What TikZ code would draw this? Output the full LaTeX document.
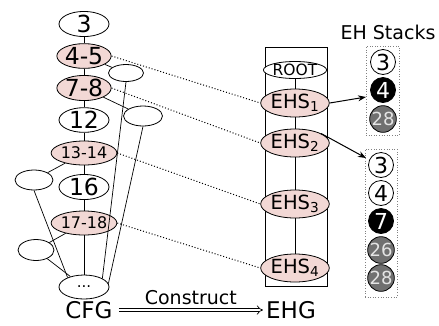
\documentclass[tikz,border=0pt]{standalone}
\usepackage{fontspec}
\setmainfont{DejaVu Sans}
\usetikzlibrary{shapes.geometric,arrows.meta}
\definecolor{pinkf}{HTML}{F2D8D5}
\definecolor{grayf}{HTML}{707070}
\definecolor{graytxt}{HTML}{E4E4E4}
\begin{document}
\begin{tikzpicture}[x=1pt,y=-1pt,
  every node/.style={inner sep=0pt},
  cfgnode/.style={ellipse,draw,line width=0.8pt,minimum width=50pt,minimum height=24pt,fill=white},
  hot/.style={cfgnode,fill=pinkf},
  sidenode/.style={ellipse,draw,line width=0.8pt,fill=white},
  bigtxt/.style={font=\fontsize{23.5}{23.5}\selectfont},
  smalltxt/.style={font=\fontsize{16}{16}\selectfont},
  ehs/.style={ellipse,draw,line width=0.8pt,fill=pinkf,minimum width=56pt,minimum height=28pt,font=\fontsize{19.5}{19.5}\selectfont},
  stk/.style={circle,draw,line width=0.8pt,minimum size=25pt,font=\fontsize{22}{22}\selectfont},
  stkw/.style={stk,fill=white},
  stkb/.style={stk,fill=black,text=white},
  stkg/.style={stk,fill=grayf,text=graytxt,font=\fontsize{18}{18}\selectfont},
  edge/.style={line width=0.7pt},
  link/.style={line width=1pt,dotted},
  stackbox/.style={draw=gray,dotted,line width=0.6pt,fill=none}
]
\useasboundingbox (0,0) rectangle (439,325);

% CFG side nodes
\node[sidenode,minimum width=35pt,minimum height=17pt] (A) at (126,73) {};
\node[sidenode,minimum width=39pt,minimum height=20pt] (B) at (143,116) {};
\node[sidenode,minimum width=38pt,minimum height=20pt] (C) at (34,180) {};
\node[sidenode,minimum width=36pt,minimum height=21pt] (D) at (36,250) {};

% CFG chain
\node[cfgnode,bigtxt] (n3) at (84,24) {3};
\node[hot,bigtxt] (n45) at (84,56) {4-5};
\node[hot,bigtxt] (n78) at (84,88) {7-8};
\node[cfgnode,bigtxt] (n12) at (84,120) {12};
\node[hot,smalltxt] (n1314) at (84,153) {13-14};
\node[cfgnode,bigtxt] (n16) at (84,187) {16};
\node[hot,smalltxt] (n1718) at (84,223) {17-18};
\node[cfgnode,font=\fontsize{15}{15}\selectfont] (dots) at (84,287) {...};

\draw[edge] (n3) -- (n45);
\draw[edge] (n45) -- (n78);
\draw[edge] (n78) -- (n12);
\draw[edge] (n12) -- (n1314);
\draw[edge] (n1314) -- (n16);
\draw[edge] (n16) -- (n1718);
\draw[edge] (n1718) -- (dots);
\draw[edge] (n45) -- (A);
\draw[edge] (n78) -- (B);
\draw[edge] (A.south) -- (dots.25);
\draw[edge] (B.south) -- (dots.8);
\draw[edge] (n1314) -- (C);
\draw[edge] (C.south) -- (dots.150);
\draw[edge] (n1718) -- (D);
\draw[edge] (D) -- (dots);

% EHG
\node[draw,line width=1pt,minimum width=62pt,minimum height=239pt] (box) at (296,166.5) {};
\node[ellipse,draw,line width=0.8pt,fill=white,minimum width=48pt,minimum height=17pt,font=\fontsize{15.5}{15.5}\selectfont] (root) at (295,70) {ROOT};
\node[ehs] (e1) at (295,103) {EHS\textsubscript{1}};
\node[ehs] (e2) at (295,143) {EHS\textsubscript{2}};
\node[ehs] (e3) at (295,204) {EHS\textsubscript{3}};
\node[ehs] (e4) at (295,268) {EHS\textsubscript{4}};
\draw[edge] (root) -- (e1);
\draw[edge] (e1) -- (e2);
\draw[edge] (e2) -- (e3);
\draw[edge] (e3) -- (e4);

% dotted mappings
\draw[link] (n45.east) -- (e1.west);
\draw[link] (n78.east) -- (e2.west);
\draw[link] (n1314.east) -- (e3.west);
\draw[link] (n1718.east) -- (e4.west);

% EH stacks
\node[font=\fontsize{19}{19}\selectfont] (title) at (388,32) {EH Stacks};
\node[stackbox,minimum width=33pt,minimum height=89pt] (s1) at (382.5,90.5) {};
\node[stkw] (s1a) at (383,62) {3};
\node[stkb] (s1b) at (383,90) {4};
\node[stkg] (s1c) at (383,119) {28};

\node[stackbox,minimum width=32pt,minimum height=148pt] (s2) at (381,223) {};
\node[stkw] (s2a) at (381,165) {3};
\node[stkw] (s2b) at (381,193) {4};
\node[stkb] (s2c) at (381,221) {7};
\node[stkg] (s2d) at (381,250) {26};
\node[stkg] (s2e) at (381,278) {28};

\coordinate (t1) at (366,97);
\coordinate (t2) at (366,158);
\draw[line width=1pt,-{Stealth[length=8pt,width=6pt]}] (e1.east) -- (t1);
\draw[line width=1pt,-{Stealth[length=8pt,width=6pt]}] (e2.20) -- (t2);

% construct arrow
\node[font=\fontsize{23}{23}\selectfont] (cfg) at (89,310) {CFG};
\node[font=\fontsize{23}{23}\selectfont] (ehg) at (291,310) {EHG};
\draw[double,double distance=2.5pt,line width=0.7pt,-{Implies}] ([xshift=6pt]cfg.east) -- ([xshift=-3pt]ehg.west) node[midway,above=5pt,font=\fontsize{19}{19}\selectfont] (lbl) {Construct};
\end{tikzpicture}
\end{document}
